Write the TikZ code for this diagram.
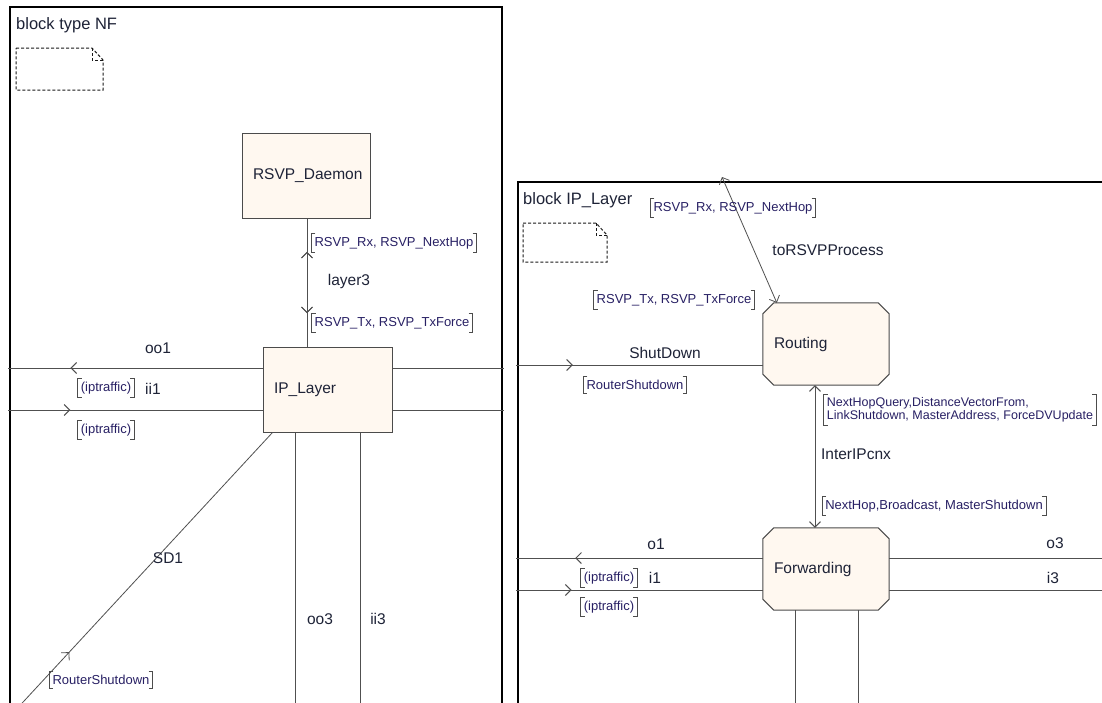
\documentclass[tikz,border=0pt]{standalone}
\usepackage{fontspec}
\setmainfont{Liberation Sans}
\usetikzlibrary{arrows.meta,decorations.markings}
\pgfdeclarelayer{background}
\pgfsetlayers{background,main}
\definecolor{boxfill}{RGB}{255,248,240}
\definecolor{boxline}{RGB}{75,75,75}
\definecolor{linec}{RGB}{80,80,80}
\definecolor{namec}{RGB}{30,35,55}
\definecolor{sigc}{RGB}{40,32,100}
\newcommand\brk[1]{%
  \draw[brkline] ([xshift=4pt]#1.north west) -- (#1.north west) -- (#1.south west) -- ([xshift=4pt]#1.south west);
  \draw[brkline] ([xshift=-4pt]#1.north east) -- (#1.north east) -- (#1.south east) -- ([xshift=-4pt]#1.south east);}
\newcommand\octa[1]{%
  \begin{pgfonlayer}{background}
  \draw[octline] ([xshift=11pt]#1.north west) -- ([xshift=-11pt]#1.north east) -- ([yshift=-11pt]#1.north east)
    -- ([yshift=11pt]#1.south east) -- ([xshift=-11pt]#1.south east) -- ([xshift=11pt]#1.south west)
    -- ([yshift=11pt]#1.south west) -- ([yshift=-11pt]#1.north west) -- cycle;
  \end{pgfonlayer}}
\begin{document}
\begin{tikzpicture}[x=1pt,y=-1pt,
  frame/.style={draw=black, line width=2pt},
  notebox/.style={draw=black!90, line width=1pt, dash pattern=on 3pt off 2pt},
  title/.style={font=\fontsize{16.5}{19}\selectfont, text=namec, inner sep=0pt, anchor=west},
  proc/.style={draw=boxline, fill=boxfill, line width=1pt, text=namec,
    font=\fontsize{15.5}{18}\selectfont, align=left, inner xsep=11pt,
    text width=106pt, minimum height=85pt},
  oct/.style={text=namec, font=\fontsize{15.5}{18}\selectfont, align=left,
    inner xsep=11pt, text width=104pt, minimum height=82pt},
  octline/.style={draw=boxline, fill=boxfill, line width=1pt},
  conn/.style={draw=linec, line width=1pt},
  chev/.style={postaction={decorate}, decoration={markings,
    mark=at position #1 with {\arrow{Straight Barb[length=5.5pt,width=11pt]}}}},
  chevr/.style={postaction={decorate}, decoration={markings,
    mark=at position #1 with {\arrowreversed{Straight Barb[length=5.5pt,width=11pt]}}}},
  tips/.style={arrows={Straight Barb[length=5.5pt,width=11pt]-Straight Barb[length=5.5pt,width=11pt]}},
  chname/.style={font=\fontsize{15.5}{18}\selectfont, text=namec, inner sep=1pt},
  sig/.style={font=\fontsize{13}{15}\selectfont, text=sigc, inner xsep=3pt, inner ysep=3.5pt, align=left},
  brkline/.style={draw=black!70, line width=0.9pt}
]
\useasboundingbox (0,0) rectangle (1102,702);
\clip (0,0) rectangle (1102,702);
\begin{pgfonlayer}{background}
\fill[white] (0,0) rectangle (1102,702);
\end{pgfonlayer}

% ================= left: block type NF =================
\draw[frame] (10,7) rectangle (502,730);
\node[title] (t1) at (16,25) {block type NF};
\draw[notebox] (16,48) -- (92,48) -- (103,60) -- (103,90) -- (16,90) -- cycle;
\draw[notebox] (92,48) -- (92,60) -- (103,60);

\node[proc] (daemon) at (306,175.5) {RSVP\_Daemon};
\node[proc, text width=107pt] (ip) at (327.5,389.5) {IP\_Layer};

% layer3
\draw[conn, chevr=0.26, chev=0.74] ([xshift=1pt]daemon.south) -- ([xshift=1pt]daemon.south |- ip.north);
\node[sig] (s1) at (394,243) {RSVP\_Rx, RSVP\_NextHop}; \brk{s1}
\node[chname] (l3) at (349,281) {layer3};
\node[sig] (s2) at (392,323) {RSVP\_Tx, RSVP\_TxForce}; \brk{s2}

% oo1 / ii1
\coordinate (oo1l) at (8,368);
\coordinate (ii1l) at (8,410);
\coordinate (oo1r) at (504,368);
\coordinate (ii1r) at (504,410);
\draw[conn, chevr=0.245] (oo1l) -- (oo1l -| ip.west);
\draw[conn, chev=0.245] (ii1l) -- (ii1l -| ip.west);
\draw[conn] (oo1r -| ip.east) -- (oo1r);
\draw[conn] (ii1r -| ip.east) -- (ii1r);
\node[chname] (noo1) at (158,348) {oo1};
\node[sig] (s3) at (106,388) {(iptraffic)}; \brk{s3}
\node[chname] (nii1) at (153,389) {ii1};
\node[sig] (s4) at (106,430) {(iptraffic)}; \brk{s4}

% SD1
\coordinate (sd1e) at (18.5,707);
\draw[conn, line width=0.8pt, chev=0.2] (sd1e) -- ([xshift=10pt]ip.south west);
\node[chname] (nsd1) at (168,558) {SD1};
\node[sig] (s5) at (101,680) {RouterShutdown}; \brk{s5}

% oo3 / ii3
\coordinate (oo3e) at (295,710);
\coordinate (ii3e) at (360,710);
\draw[conn] (oo3e |- ip.south) -- (oo3e);
\draw[conn] (ii3e |- ip.south) -- (ii3e);
\node[chname] (noo3) at (320,619) {oo3};
\node[chname] (nii3) at (378,619) {ii3};

% ================= right: block IP_Layer =================
\draw[frame] (518,182) rectangle (1130,730);
\node[title] (t2) at (523,200) {block IP\_Layer};
\draw[notebox] (523,223) -- (596,223) -- (607,235) -- (607,262) -- (523,262) -- cycle;
\draw[notebox] (596,223) -- (596,235) -- (607,235);

\node[oct] (routing) at (826,344) {Routing}; \octa{routing}
\node[oct] (fwd) at (826,569) {Forwarding}; \octa{fwd}

% toRSVPProcess
\coordinate (rsvptop) at (722,177);
\draw[conn, line width=0.8pt, tips] (rsvptop) -- ([xshift=14pt]routing.north west);
\node[sig] (s6) at (733,208) {RSVP\_Rx, RSVP\_NextHop}; \brk{s6}
\node[chname] (ntorsvp) at (828,250) {toRSVPProcess};
\node[sig] (s7) at (674,300) {RSVP\_Tx, RSVP\_TxForce}; \brk{s7}

% ShutDown
\coordinate (shl) at (516,365);
\draw[conn, chev=0.23] (shl) -- (shl -| routing.west);
\node[chname] (nsh) at (665,353) {ShutDown};
\node[sig] (s8) at (635,385) {RouterShutdown}; \brk{s8}

% InterIPcnx
\draw[conn, tips] ([xshift=-11pt]routing.south) -- ([xshift=-11pt]fwd.north);
\node[sig, font=\fontsize{12.5}{14.5}\selectfont, inner ysep=3pt] (s9) at (960,410) {NextHopQuery,DistanceVectorFrom,\\[-1.5pt]LinkShutdown, MasterAddress, ForceDVUpdate}; \brk{s9}
\node[chname] (ninter) at (856,454) {InterIPcnx};
\node[sig] (s10) at (934,506) {NextHop,Broadcast, MasterShutdown}; \brk{s10}

% o1 / i1 / o3 / i3
\coordinate (o1l) at (516,558);
\coordinate (i1l) at (516,590);
\coordinate (o3r) at (1104,558);
\coordinate (i3r) at (1104,590);
\draw[conn, chevr=0.24] (o1l) -- (o1l -| fwd.west);
\draw[conn, chev=0.225] (i1l) -- (i1l -| fwd.west);
\draw[conn] (o3r -| fwd.east) -- (o3r);
\draw[conn] (i3r -| fwd.east) -- (i3r);
\node[chname] (no1) at (656,544) {o1};
\node[sig] (s11) at (609,578) {(iptraffic)}; \brk{s11}
\node[chname] (ni1) at (655,578) {i1};
\node[sig] (s12) at (609,607) {(iptraffic)}; \brk{s12}
\node[chname] (no3) at (1055,543) {o3};
\node[chname] (ni3) at (1053,578) {i3};

\coordinate (f1) at (795,710);
\coordinate (f2) at (858,710);
\draw[conn] (f1 |- fwd.south) -- (f1);
\draw[conn] (f2 |- fwd.south) -- (f2);
\end{tikzpicture}
\end{document}
